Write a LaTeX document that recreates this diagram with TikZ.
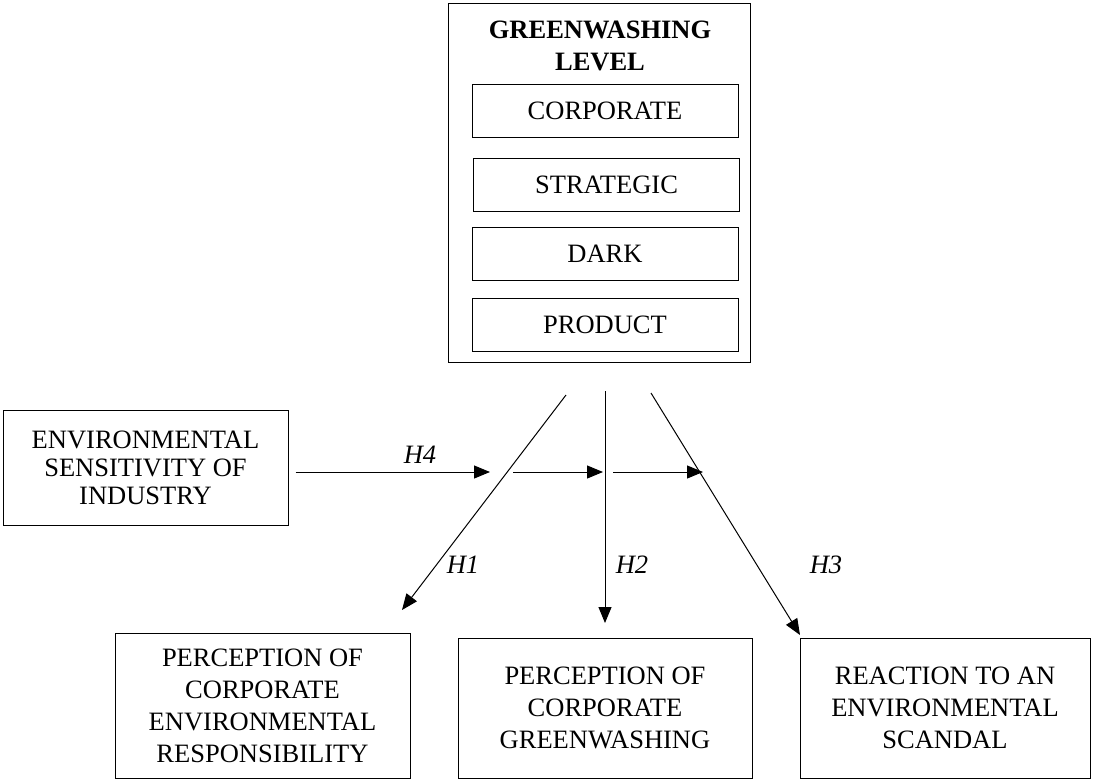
\documentclass[tikz,border=0pt]{standalone}
\usepackage{fontspec}
\setmainfont{Liberation Serif}
\usetikzlibrary{arrows.meta}
\begin{document}
\begin{tikzpicture}[x=1pt,y=-1pt,line width=1pt,
  box/.style={draw,rectangle,inner sep=0pt,align=center,font=\fontsize{26.5}{32}\selectfont},
  level/.style={box,minimum width=266pt,minimum height=53pt},
  outcome/.style={box,minimum height=140pt},
  hyp/.style={font=\fontsize{26.5}{32}\selectfont\itshape},
  arr/.style={-{Triangle[length=16pt,width=13pt]}}]
\useasboundingbox (0,0) rectangle (1096,780);
% greenwashing level
\node[box,minimum width=302pt,minimum height=359pt] (gwl) at (599,182.5) {};
\node[align=center,font=\fontsize{26.5}{32}\selectfont\bfseries] (title) at (600,46) {GREENWASHING\\LEVEL};
\node[level] (corp) at (605,111) {CORPORATE};
\node[level] (strat) at (606.5,184.5) {STRATEGIC};
\node[level] (dark) at (605,253.5) {DARK};
\node[level] (prod) at (605,324.5) {PRODUCT};
% moderator
\node[box,minimum width=285pt,minimum height=115pt,font=\fontsize{26.5}{28}\selectfont] (env) at (145.5,467.5)
  {ENVIRONMENTAL\\SENSITIVITY OF\\INDUSTRY};
% outcomes
\node[outcome,minimum width=295pt,minimum height=145pt] (pcer) at (262.5,705.5)
  {PERCEPTION OF\\CORPORATE\\ENVIRONMENTAL\\RESPONSIBILITY};
\node[outcome,minimum width=294pt] (pcg) at (605,708)
  {PERCEPTION OF\\CORPORATE\\GREENWASHING};
\node[outcome,minimum width=290pt] (res) at (945,708)
  {REACTION TO AN\\ENVIRONMENTAL\\SCANDAL};
% free ends
\coordinate (h1a) at (566,395);
\coordinate (h1b) at (402,610);
\coordinate (h2a) at (605,391);
\coordinate (h2b) at (605,623);
\coordinate (h3a) at (651,393);
\coordinate (h3b) at (800,635);
\coordinate (m1a) at ([xshift=7pt]env.east |- 0,472);
\coordinate (m1b) at (490,472);
\coordinate (m2a) at (513,472);
\coordinate (m2b) at (603,472);
\coordinate (m3a) at (613,472);
\coordinate (m3b) at (703,472);
\foreach \a/\b in {h1a/h1b,h2a/h2b,h3a/h3b,m1a/m1b,m2a/m2b,m3a/m3b}
  \draw[arr] (\a) -- (\b);
\node[hyp] (h1) at (463,565) {H1};
\node[hyp] (h2) at (632,565) {H2};
\node[hyp] (h3) at (826,565) {H3};
\node[hyp] (h4) at (420,455) {H4};
\end{tikzpicture}
\end{document}
